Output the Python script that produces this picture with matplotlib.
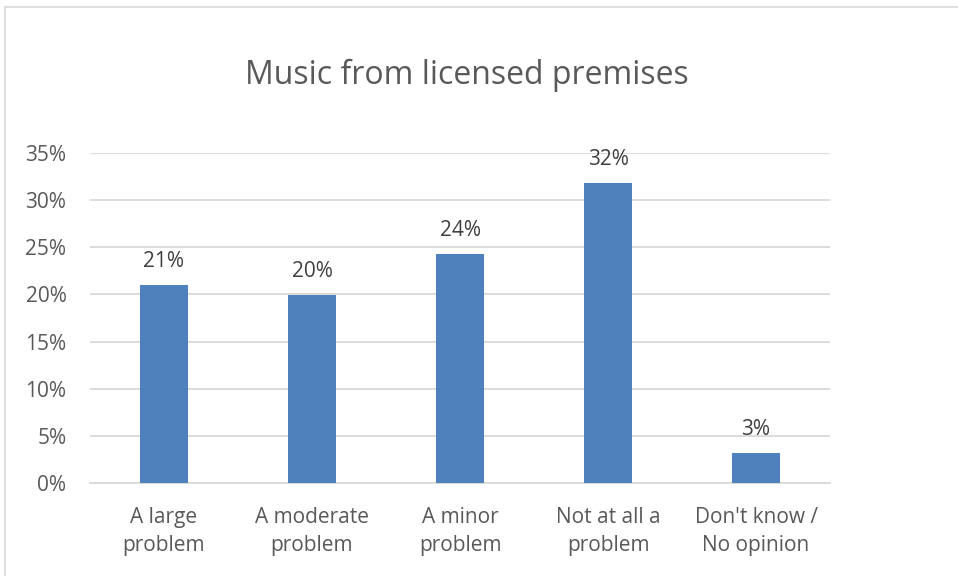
import numpy as np
import matplotlib.pyplot as plt
from matplotlib.lines import Line2D
from matplotlib.ticker import PercentFormatter

# survey answers
categories = ["A large\nproblem", "A moderate\nproblem", "A minor\nproblem",
              "Not at all a\nproblem", "Don't know /\nNo opinion"]
shares = [0.210, 0.199, 0.243, 0.318, 0.032]
yticks = [0, 0.05, 0.10, 0.15, 0.20, 0.25, 0.30, 0.35]

plt.rcParams['font.family'] = ['Open Sans', 'DejaVu Sans']

W, H = 958, 576
fig = plt.figure(figsize=(W / 100, H / 100), dpi=100)
ax = fig.add_axes([90 / W, 1 - 483.3 / H, 740 / W, (483.3 - 152.6) / H])

x = np.arange(len(categories))
bars = ax.bar(x, shares, width=0.32, color='#4f81bd', zorder=3)
for b, v in zip(bars, shares):
    ax.text(b.get_x() + b.get_width() / 2, v + 0.019, f"{v:.0%}",
            ha='center', va='baseline', fontsize=15, color='#404040')

ax.set_xlim(-0.5, len(categories) - 0.5)
ax.set_ylim(0, 0.35)
ax.set_yticks(yticks)
ax.yaxis.set_major_formatter(PercentFormatter(1.0, decimals=0))
ax.set_xticks(x)
ax.set_xticklabels(categories, fontsize=15, color='#595959', linespacing=1.45)
ax.tick_params(axis='y', labelsize=15, labelcolor='#595959', length=0, pad=17)
ax.tick_params(axis='x', length=0, pad=17)
ax.grid(axis='y', color='#d9d9d9', linewidth=1.3, zorder=0)
for s in ['top', 'right', 'left']:
    ax.spines[s].set_visible(False)
ax.spines['bottom'].set_color('#d9d9d9')
ax.spines['bottom'].set_linewidth(1.3)

fig.text(467 / W, 1 - 84 / H, "Music from licensed premises", ha='center', va='baseline',
         fontsize=23, color='#595959')

# outer chart border
fig.add_artist(Line2D([4.5 / W, 1], [1 - 6.5 / H, 1 - 6.5 / H], transform=fig.transFigure,
                      color='#d9d9d9', linewidth=1.2))
fig.add_artist(Line2D([4.5 / W, 4.5 / W], [0, 1 - 6.5 / H], transform=fig.transFigure,
                      color='#d9d9d9', linewidth=1.2))

fig.savefig('out.png', dpi=100)
